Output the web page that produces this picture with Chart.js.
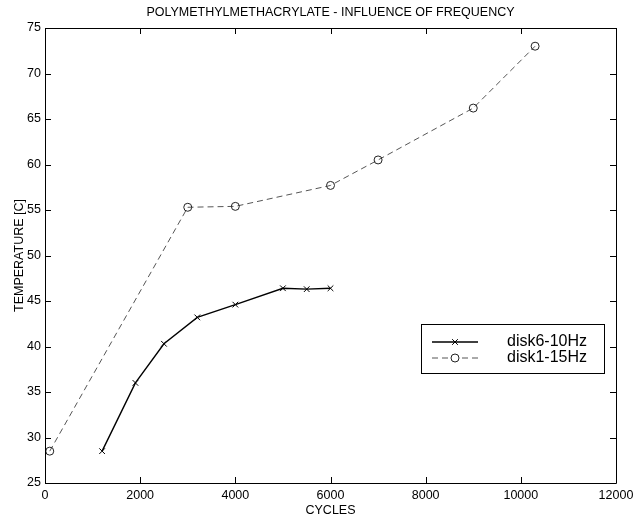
<!DOCTYPE html>
<html>
<head>
<meta charset="utf-8">
<script src="https://cdn.jsdelivr.net/npm/chart.js@4/dist/chart.umd.min.js"></script>
<style>
  html, body { margin: 0; padding: 0; background: #fff; }
</style>
</head>
<body>
<canvas id="chart" width="633" height="518"></canvas>
<script>
// Data
const chartTitle = 'POLYMETHYLMETHACRYLATE - INFLUENCE OF FREQUENCY';
const xTitle = 'CYCLES';
const yTitle = 'TEMPERATURE [C]';

const disk6Label = 'disk6-10Hz';
const disk6Cycles = [1200, 1900, 2500, 3200, 4000, 5000, 5500, 6000];
const disk6Temp = [28.5, 36.0, 40.3, 43.2, 44.6, 46.4, 46.3, 46.4];

const disk1Label = 'disk1-15Hz';
const disk1Cycles = [100, 3000, 4000, 6000, 7000, 9000, 10300];
const disk1Temp = [28.5, 55.3, 55.4, 57.7, 60.5, 66.2, 73.0];

const xTicks = [0, 2000, 4000, 6000, 8000, 10000, 12000];
const yTicks = [25, 30, 35, 40, 45, 50, 55, 60, 65, 70, 75];

const FONT = '"Liberation Sans", Arial, Helvetica, sans-serif';

function toPoints(xs, ys) {
    return xs.map((x, i) => ({ x: x, y: ys[i] }));
}

// MATLAB style frame with inward ticks on all four sides, title over the axes
const framePlugin = {
    id: 'frame',
    afterDatasetsDraw(chart) {
        const { ctx, chartArea: a, scales } = chart;
        const len = 6;
        ctx.save();
        ctx.strokeStyle = '#000';
        ctx.lineWidth = 1;
        ctx.beginPath();
        ctx.rect(a.left + 0.5, a.top + 0.5, a.right - a.left, a.bottom - a.top);
        xTicks.forEach(v => {
            const px = Math.round(scales.x.getPixelForValue(v)) + 0.5;
            ctx.moveTo(px, a.bottom); ctx.lineTo(px, a.bottom - len);
            ctx.moveTo(px, a.top); ctx.lineTo(px, a.top + len);
        });
        yTicks.forEach(v => {
            const py = Math.round(scales.y.getPixelForValue(v)) + 0.5;
            ctx.moveTo(a.left, py); ctx.lineTo(a.left + len, py);
            ctx.moveTo(a.right, py); ctx.lineTo(a.right - len, py);
        });
        ctx.stroke();

        ctx.fillStyle = '#000';
        ctx.font = '12.5px ' + FONT;
        ctx.textAlign = 'center';
        ctx.textBaseline = 'middle';
        ctx.fillText(chartTitle, (a.left + a.right) / 2, 13);
        ctx.restore();
    }
};

// Legend box drawn inside the plot, lower right
const boxLegendPlugin = {
    id: 'boxLegend',
    afterDraw(chart) {
        const { ctx, chartArea: a } = chart;
        const x0 = a.right - 195, y0 = a.top + 296, w = 183, h = 49;
        ctx.save();
        ctx.fillStyle = '#fff';
        ctx.fillRect(x0, y0, w, h);
        ctx.strokeStyle = '#000';
        ctx.lineWidth = 1;
        ctx.strokeRect(x0 + 0.5, y0 + 0.5, w, h);
        chart.data.datasets.forEach((ds, i) => {
            const y = y0 + 18 + i * 16;
            ctx.strokeStyle = ds.borderColor;
            ctx.lineWidth = ds.borderWidth;
            ctx.setLineDash(ds.borderDash || []);
            ctx.beginPath();
            ctx.moveTo(x0 + 11, y);
            ctx.lineTo(x0 + 57, y);
            ctx.stroke();
            ctx.setLineDash([]);
            ctx.fillStyle = '#fff';
            ctx.strokeStyle = ds.pointBorderColor;
            ctx.lineWidth = 1;
            Chart.helpers.drawPoint(ctx, {
                pointStyle: ds.pointStyle,
                radius: ds.pointRadius,
                borderWidth: 1
            }, x0 + 34, y);
            ctx.fillStyle = '#000';
            ctx.font = '16px ' + FONT;
            ctx.textBaseline = 'middle';
            ctx.fillText(ds.label, x0 + 86, y);
        });
        ctx.restore();
    }
};

const ctx = document.getElementById('chart').getContext('2d');

new Chart(ctx, {
    type: 'line',
    data: {
        datasets: [
            {
                label: disk6Label,
                data: toPoints(disk6Cycles, disk6Temp),
                borderColor: '#000',
                borderWidth: 1.4,
                pointStyle: 'crossRot',
                pointRadius: 4,
                pointBorderColor: '#000',
                pointBorderWidth: 1,
                fill: false,
                tension: 0
            },
            {
                label: disk1Label,
                data: toPoints(disk1Cycles, disk1Temp),
                borderColor: '#555',
                borderWidth: 1,
                borderDash: [6, 4],
                pointStyle: 'circle',
                pointRadius: 4,
                pointBackgroundColor: 'rgba(0,0,0,0)',
                pointBorderColor: '#222',
                pointBorderWidth: 1,
                fill: false,
                tension: 0
            }
        ]
    },
    options: {
        responsive: false,
        devicePixelRatio: 1,
        animation: false,
        layout: { padding: { left: 0, right: 17, top: 28, bottom: 0 } },
        plugins: {
            legend: { display: false },
            tooltip: { enabled: false },
            title: { display: false }
        },
        scales: {
            x: {
                type: 'linear',
                min: 0,
                max: 12000,
                afterBuildTicks: s => { s.ticks = xTicks.map(v => ({ value: v })); },
                afterFit: s => { s.height = 35; s.paddingLeft = 0; s.paddingRight = 0; },
                grid: { display: false, drawTicks: false },
                border: { display: false },
                ticks: {
                    color: '#000',
                    font: { family: FONT, size: 12.5 },
                    padding: 5,
                    maxRotation: 0,
                    callback: v => String(v)
                },
                title: {
                    display: true,
                    text: xTitle,
                    color: '#000',
                    font: { family: FONT, size: 12.5 },
                    padding: { top: 0, bottom: 0 }
                }
            },
            y: {
                type: 'linear',
                min: 25,
                max: 75,
                afterBuildTicks: s => { s.ticks = yTicks.map(v => ({ value: v })); },
                afterFit: s => { s.width = 45; s.paddingTop = 0; s.paddingBottom = 0; },
                grid: { display: false, drawTicks: false },
                border: { display: false },
                ticks: {
                    color: '#000',
                    font: { family: FONT, size: 12.5 },
                    padding: 4,
                    callback: v => String(v)
                },
                title: {
                    display: true,
                    text: yTitle,
                    color: '#000',
                    font: { family: FONT, size: 12.5 },
                    padding: { top: 12, bottom: 0 }
                }
            }
        }
    },
    plugins: [framePlugin, boxLegendPlugin]
});
</script>
</body>
</html>
